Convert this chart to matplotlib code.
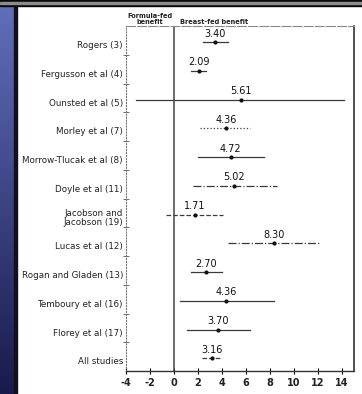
import numpy as np
import matplotlib.pyplot as plt

# studies, top to bottom
studies = ["Rogers (3)", "Fergusson et al (4)", "Ounsted et al (5)", "Morley et al (7)",
           "Morrow-Tlucak et al (8)", "Doyle et al (11)", "Jacobson and\nJacobson (19)",
           "Lucas et al (12)", "Rogan and Gladen (13)", "Temboury et al (16)",
           "Florey et al (17)", "All studies"]
benefit = [3.40, 2.09, 5.61, 4.36, 4.72, 5.02, 1.71, 8.30, 2.70, 4.36, 3.70, 3.16]
ci_low = [2.4, 1.4, -3.2, 2.2, 2.0, 1.6, -0.7, 4.5, 1.4, 0.5, 1.1, 2.35]
ci_high = [4.5, 2.7, 14.2, 6.3, 7.5, 8.6, 4.1, 12.1, 4.0, 8.3, 6.3, 4.0]
line_styles = ["-", "-", "-", ":", "-", "-.", "--", "-.", "-", "-", "-", "--"]
xticks = [-4, -2, 0, 2, 4, 6, 8, 10, 12, 14]

W, H = 362, 394
fig = plt.figure(figsize=(W / 100, H / 100), dpi=100)
fig.patch.set_facecolor("white")

# blue slide strip on the left
strip = fig.add_axes([0, 0, 15 / W, 1])
grad = np.linspace(0, 1, 200)[:, None] * np.ones((1, 10))
cols = np.zeros((200, 10, 3))
top_c = np.array([0.38, 0.44, 0.74])
bot_c = np.array([0.10, 0.10, 0.30])
cols[:] = top_c * (1 - grad[..., None]) + bot_c * grad[..., None]
strip.imshow(cols, aspect="auto", extent=[0, 1, 0, 1], origin="upper")
strip.axis("off")
fig.add_artist(plt.Rectangle((14 / W, 0), 2.5 / W, 1, transform=fig.transFigure,
                             color="#101020", zorder=5))
# top bar: black with a thin grey stripe
fig.add_artist(plt.Rectangle((0, 1 - 6 / H), 1, 6 / H, transform=fig.transFigure,
                             color="#0a0a0a", zorder=5))
fig.add_artist(plt.Rectangle((0, 1 - 3.5 / H), 1, 1.2 / H, transform=fig.transFigure,
                             color="#8c8c8c", zorder=6))

ax = fig.add_axes([126 / W, 23 / H, (354 - 126) / W, (371 - 26) / H])
ax.set_xlim(-4, 15)
ax.set_ylim(12, 0)

n = len(studies)
for i in range(n):
    y = i + 0.56
    ax.plot([ci_low[i], ci_high[i]], [y, y], color="#3a3a3a", lw=0.9, ls=line_styles[i])
    ax.plot(benefit[i], y, "o", color="#111111", ms=2)
    ax.text(benefit[i], y - 0.12, f"{benefit[i]:.2f}", ha="center", va="bottom",
            fontsize=7, color="#111111")
    ax.text(-4.25, y + 0.12, studies[i], ha="right", va="center", fontsize=6.3,
            color="#222222", linespacing=0.95)

ax.axvline(0, color="#444444", lw=1.1)

ax.spines["left"].set_linestyle(":")
ax.spines["left"].set_color("#777777")
ax.spines["top"].set_linestyle((0, (8, 2)))
ax.spines["top"].set_color("#888888")
ax.spines["right"].set_color("#222222")
ax.spines["right"].set_linewidth(1.1)
ax.spines["bottom"].set_color("#333333")
ax.spines["bottom"].set_linewidth(1.0)

ax.set_yticks(np.arange(1, n))
ax.set_yticklabels([])
ax.tick_params(axis="y", direction="inout", length=5, width=0.6, color="#555555")
ax.set_xticks(xticks)
ax.set_xticklabels([str(t) for t in xticks], fontsize=7, fontweight="bold", color="#222222")
ax.tick_params(axis="x", direction="inout", length=4, width=0.8, pad=3)

ax.text(-2, -0.04, "Formula-fed\nbenefit", ha="center", va="bottom", fontsize=4.8,
        fontweight="bold", color="#222222", linespacing=1.0)
ax.text(3.3, -0.04, "Breast-fed benefit", ha="center", va="bottom", fontsize=4.8,
        fontweight="bold", color="#222222")

fig.savefig("out.png", dpi=100)
